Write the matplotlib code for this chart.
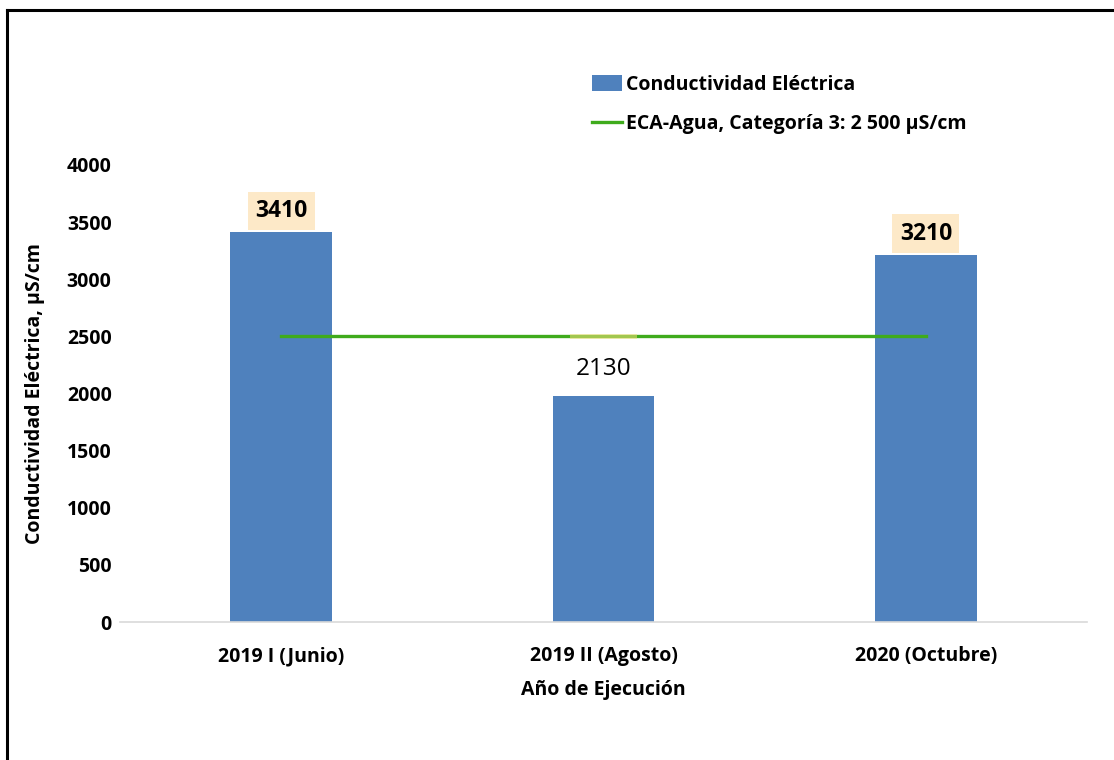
import numpy as np
import matplotlib.pyplot as plt
from matplotlib.patches import Rectangle
from matplotlib.lines import Line2D

plt.rcParams['font.family'] = ['Open Sans', 'DejaVu Sans']

categories = ['2019 I (Junio)', '2019 II (Agosto)', '2020 (Octubre)']
conductividad = [3410, 1980, 3210]
bar_labels = ['3410', '2130', '3210']
label_bold = [True, False, True]
eca_limit = [2500, 2500, 2500]

bar_color = '#4f81bd'
line_color = '#3fab1c'
box_color = '#fde9c8'

fig = plt.figure(figsize=(11.14, 7.6), dpi=100)
ax = fig.add_axes([120/1114, 1-622/760, 967/1114, 457/760])

x = np.arange(len(categories))
ax.bar(x, conductividad, width=0.315, color=bar_color, zorder=2)
ax.plot(x, eca_limit, color=line_color, lw=2.4, zorder=3)

# stray label box sitting on the limit line (middle category)
ax.add_patch(Rectangle((x[1]-0.105, eca_limit[1]-24), 0.21, 48,
                       facecolor='#f3df7a', alpha=0.55, lw=0, zorder=4))

for xi, v, lab, b in zip(x, conductividad, bar_labels, label_bold):
    if b:
        ax.annotate(lab, (xi, v), xytext=(0, 15.5), textcoords='offset points',
                    ha='center', va='center', fontsize=16.5, fontweight='bold',
                    bbox=dict(boxstyle='square,pad=0.32', fc=box_color, ec='none'))
    else:
        ax.annotate(lab, (xi, v), xytext=(0, 19), textcoords='offset points',
                    ha='center', va='center', fontsize=17.5)

ax.set_xlim(-0.5, 2.5)
ax.set_ylim(0, 4000)
ax.set_yticks(np.arange(0, 4001, 500))
ax.set_xticks(x)
ax.set_xticklabels(categories, fontsize=14, fontweight='bold')
for t in ax.get_yticklabels():
    t.set_fontsize(14)
    t.set_fontweight('bold')
ax.tick_params(length=0)
ax.tick_params(axis='y', pad=6)
ax.tick_params(axis='x', pad=17.5)
for s in ['top', 'right', 'left']:
    ax.spines[s].set_visible(False)
ax.spines['bottom'].set_color('#d9d9d9')
ax.spines['bottom'].set_linewidth(1.2)

ax.set_xlabel('Año de Ejecución', fontsize=14, fontweight='bold', labelpad=10)
ax.set_ylabel('Conductividad Eléctrica, µS/cm', fontsize=14, fontweight='bold', labelpad=15.5)

handles = [Rectangle((0, 0), 1, 1, fc=bar_color, ec='none'),
           Line2D([], [], color=line_color, lw=2.4)]
fig.legend(handles, ['Conductividad Eléctrica', 'ECA-Agua, Categoría 3: 2 500 µS/cm'],
           loc='upper left', bbox_to_anchor=(574/1114, 1-57/760), frameon=False,
           prop=dict(size=14, weight='bold'), handlelength=1.55, handleheight=0.9,
           handletextpad=0.25, labelspacing=1.0)

# outer frame (top and left edges visible in the source)
fig.add_artist(Line2D([7/1114, 7/1114], [0, 1-10/760], color='black', lw=2.2,
                      transform=fig.transFigure))
fig.add_artist(Line2D([7/1114, 1], [1-10/760, 1-10/760], color='black', lw=2.2,
                      transform=fig.transFigure))

fig.savefig('out.png', dpi=100)
